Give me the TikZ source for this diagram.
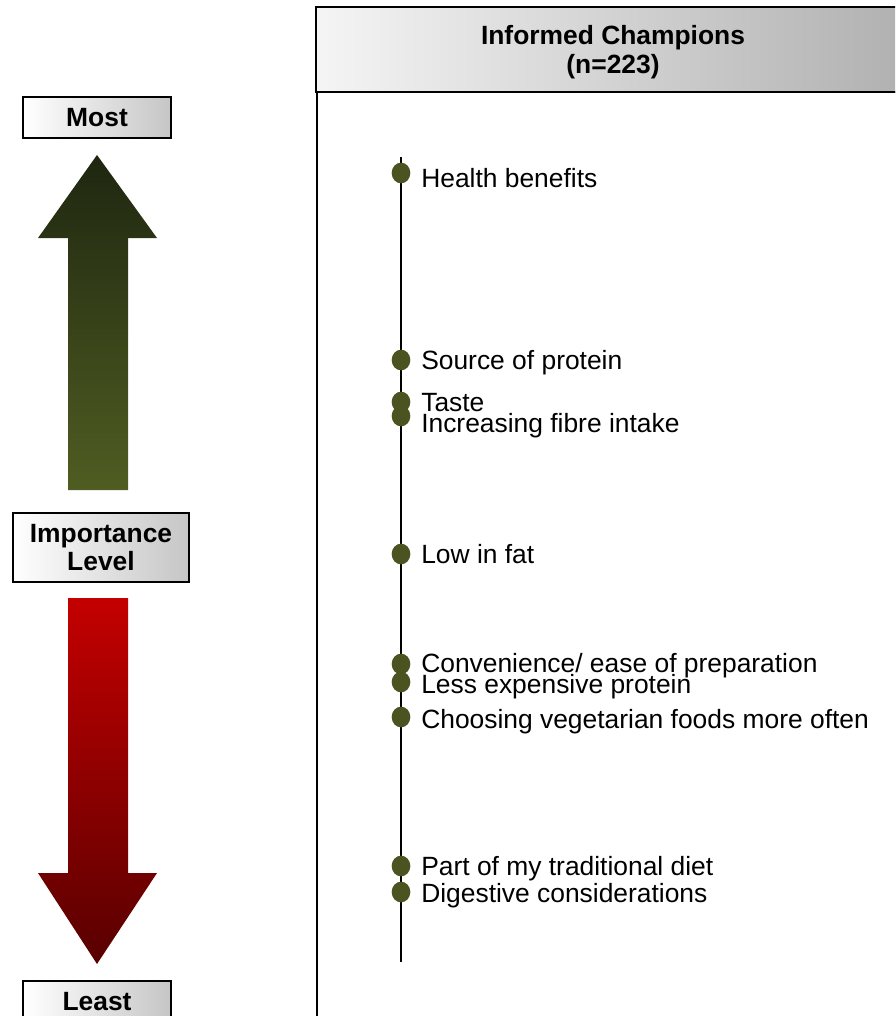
\documentclass[tikz,border=0pt]{standalone}
\usepackage{fontspec}
\setmainfont{Liberation Sans}
\usetikzlibrary{shapes.geometric}
\definecolor{dotcol}{HTML}{4B5320}
\definecolor{upTop}{HTML}{1F2610}
\definecolor{upBot}{HTML}{4F5D22}
\definecolor{dnTop}{HTML}{C40000}
\definecolor{dnBot}{HTML}{580000}
\tikzset{
  lblbox/.style={draw=black, line width=1.5pt, left color=white, right color=gray!45,
    font=\fontsize{19.8}{21}\selectfont\bfseries, align=center, inner sep=0pt},
  itemlabel/.style={anchor=base west, font=\fontsize{19.8}{21}\selectfont, inner sep=0pt},
  dotnode/.style={ellipse, fill=dotcol, minimum width=14pt, minimum height=15.5pt, inner sep=0pt},
  timeline/.style={line width=1.3pt, black},
}
\begin{document}
\begin{tikzpicture}[x=0.75pt,y=-0.75pt]
\useasboundingbox (0,0) rectangle (895,1016);
\begin{scope}
\clip (0,0) rectangle (895,1016);
% main panel
\draw[line width=1.2pt] (317,92) rectangle (910,1030);
% header
\node[draw=black, line width=1.5pt, left color=gray!8, right color=gray!62,
  minimum width=445.5pt, minimum height=63.75pt, inner sep=0pt] (hdr) at (613,49.5) {};
\node[font=\fontsize{19.8}{21.75}\selectfont\bfseries, align=center, inner sep=0pt] (hdrtext) at (613,52)
  {Informed Champions\\(n=223)};
% side boxes
\node[lblbox, minimum width=111pt, minimum height=30.75pt] (most) at (97,117.5) {Most};
\node[lblbox, minimum width=132pt, minimum height=51.75pt] (imp) at (101,547.5) {Importance\\Level};
\node[lblbox, minimum width=111pt, minimum height=30.75pt] (least) at (97,1001.5) {Least};
% arrows
\shade[top color=upTop, bottom color=upBot]
  (97,155) -- (157,238) -- (128,238) -- (128,490) -- (68,490) -- (68,238) -- (38,238) -- cycle;
\shade[top color=dnTop, bottom color=dnBot]
  (68,598) -- (128,598) -- (128,873) -- (157,873) -- (97,964) -- (38,873) -- (68,873) -- cycle;
% timeline
\coordinate (tltop) at (401,157);
\coordinate (tlbot) at (401,962);
\draw[timeline] (tltop) -- (tlbot);
% dots
\node[dotnode] (d1) at (401,173) {};
\node[dotnode] (d2) at (401,360) {};
\node[dotnode] (d3) at (401,402) {};
\node[dotnode] (d4) at (401,416) {};
\node[dotnode] (d5) at (401,554) {};
\node[dotnode] (d6) at (401,664) {};
\node[dotnode] (d7) at (401,682) {};
\node[dotnode] (d8) at (401,717) {};
\node[dotnode] (d9) at (401,866) {};
\node[dotnode] (d10) at (401,892) {};
% labels
\node[itemlabel] (l1) at (421,187.5) {Health benefits};
\node[itemlabel] (l2) at (421,369) {Source of protein};
\node[itemlabel] (l3) at (421,411) {Taste};
\node[itemlabel] (l4) at (421,432) {Increasing fibre intake};
\node[itemlabel] (l5) at (421,563) {Low in fat};
\node[itemlabel] (l6) at (421,672.5) {Convenience/ ease of preparation};
\node[itemlabel] (l7) at (421,693) {Less expensive protein};
\node[itemlabel] (l8) at (421,728) {Choosing vegetarian foods more often};
\node[itemlabel] (l9) at (421,875.5) {Part of my traditional diet};
\node[itemlabel] (l10) at (421,902) {Digestive considerations};
\end{scope}
\end{tikzpicture}
\end{document}
